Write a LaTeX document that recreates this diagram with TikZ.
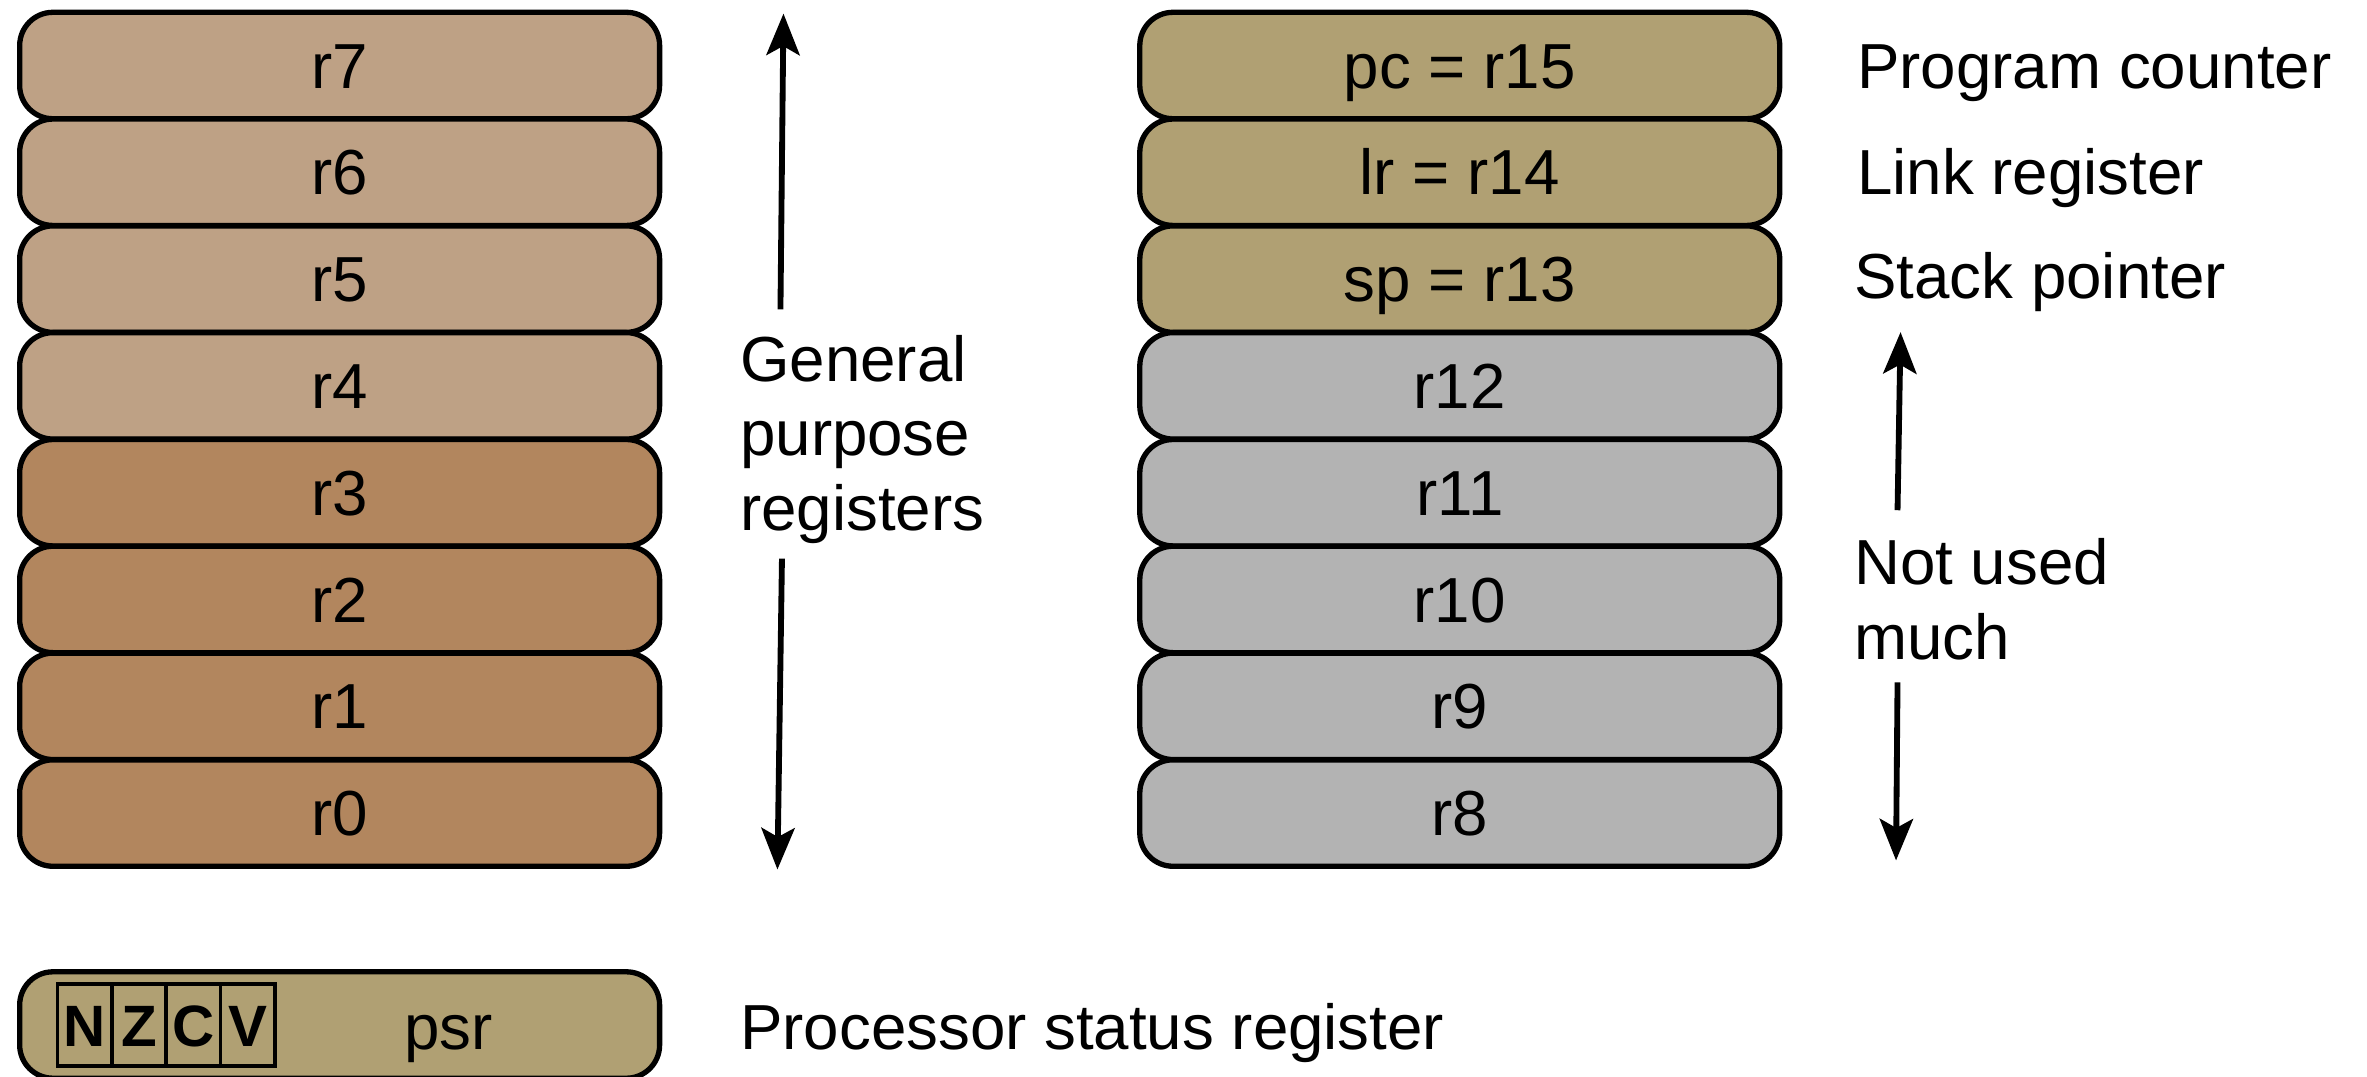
\documentclass[tikz,border=0pt]{standalone}
\usepackage{fontspec}
\setmainfont{Liberation Sans}
\usetikzlibrary{arrows.meta}
\definecolor{tanlight}{HTML}{BEA185}
\definecolor{tandark}{HTML}{B2865E}
\definecolor{olive}{HTML}{B0A073}
\definecolor{regray}{HTML}{B3B3B3}
\begin{document}
\begin{tikzpicture}[x=0.02cm,y=-0.02cm,
  reg/.style={draw=black,line width=2pt,rounded corners=0.44cm,minimum width=8.48cm,minimum height=1.41cm,inner sep=0pt,text height=0.6cm,text depth=0cm,font=\fontsize{24}{28}\selectfont},
  flag/.style={draw=black,line width=1.4pt,minimum width=0.72cm,minimum height=1.08cm,inner sep=0pt,text height=0.57cm,text depth=0cm,font=\fontsize{22}{27}\selectfont\bfseries},
  lbl/.style={inner sep=0pt,font=\fontsize{24}{28}\selectfont,align=left},
  one/.style={text height=0.6cm,text depth=0cm},
  arr/.style={line width=2.2pt,-{Stealth[length=0.55cm,width=0.44cm,inset=0.12cm]}}]
\useasboundingbox (0,0) rectangle (1568,713);
% left column
\node[reg,fill=tanlight] (r7) at (225,43.4) {r7};
\node[reg,fill=tanlight] (r6) at (225,114.1) {r6};
\node[reg,fill=tanlight] (r5) at (225,184.9) {r5};
\node[reg,fill=tanlight] (r4) at (225,255.6) {r4};
\node[reg,fill=tandark] (r3) at (225,326.4) {r3};
\node[reg,fill=tandark] (r2) at (225,397.1) {r2};
\node[reg,fill=tandark] (r1) at (225,467.9) {r1};
\node[reg,fill=tandark] (r0) at (225,538.6) {r0};
% right column
\node[reg,fill=olive] (r15) at (967,43.4) {pc = r15};
\node[reg,fill=olive] (r14) at (967,114.1) {lr = r14};
\node[reg,fill=olive] (r13) at (967,184.9) {sp = r13};
\node[reg,fill=regray] (r12) at (967,255.6) {r12};
\node[reg,fill=regray] (r11) at (967,326.4) {r11};
\node[reg,fill=regray] (r10) at (967,397.1) {r10};
\node[reg,fill=regray] (r9) at (967,467.9) {r9};
\node[reg,fill=regray] (r8) at (967,538.6) {r8};
% psr
\node[reg,fill=olive] (psr) at (225,679) {};
\node[lbl,one] (psrt) at (297,680) {psr};
\node[flag] (fN) at (56,679) {N};
\node[flag] (fZ) at (92,679) {Z};
\node[flag] (fC) at (128,679) {C};
\node[flag] (fV) at (164,679) {V};
% labels
\node[lbl,anchor=west] (gpr) at (490,291) {General\\purpose\\registers};
\node[lbl,one,anchor=west] (pcl) at (1230,43.4) {Program counter};
\node[lbl,one,anchor=west] (lrl) at (1230,114.1) {Link register};
\node[lbl,one,anchor=west] (spl) at (1228,183) {Stack pointer};
\node[lbl,anchor=west] (nu) at (1228,397) {Not used\\much};
\node[lbl,one,anchor=west] (psrl) at (490,680) {Processor status register};
% arrows
\coordinate (ga1) at (517,205);
\coordinate (ga2) at (519,9);
\coordinate (gb1) at (518,370);
\coordinate (gb2) at (515,576);
\coordinate (na1) at (1257,338);
\coordinate (na2) at (1259,220);
\coordinate (nb1) at (1257,452);
\coordinate (nb2) at (1256,570);
\draw[arr] (ga1) -- (ga2);
\draw[arr] (gb1) -- (gb2);
\draw[arr] (na1) -- (na2);
\draw[arr] (nb1) -- (nb2);
\end{tikzpicture}
\end{document}
